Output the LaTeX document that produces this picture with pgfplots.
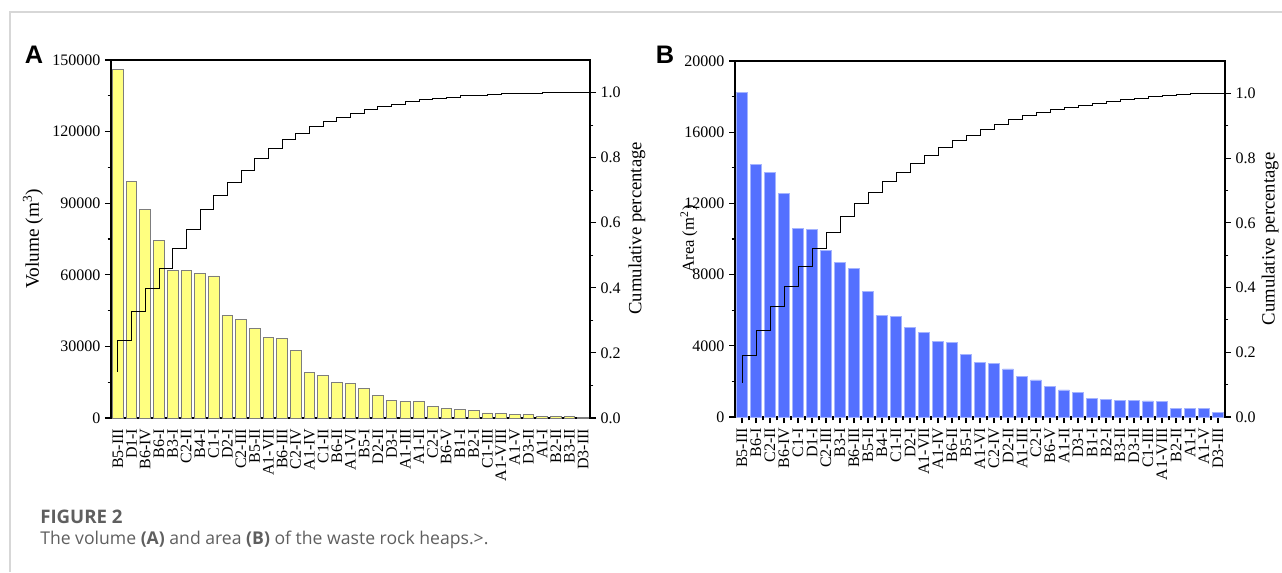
\documentclass[border=0pt]{standalone}
\usepackage{pgfplots}
\usepackage{pgfplotstable}
\pgfplotsset{compat=1.18}
\usepackage{fontspec}
\setmainfont{Liberation Serif}
\newfontfamily\capfont{Open Sans}
\newfontfamily\panelfont{Liberation Sans}

\definecolor{volfill}{RGB}{255,255,128}
\definecolor{voledge}{RGB}{125,125,125}
\definecolor{areafill}{RGB}{84,112,255}
\definecolor{areaedge}{RGB}{165,180,255}
\definecolor{framegray}{RGB}{215,215,215}
\definecolor{capgray}{RGB}{95,95,95}

% Volume (A): x, volume (m3), cumulative share
\pgfplotstableread{
x v c
1 146000 0.142
2 99200 0.238
3 87500 0.327
4 74500 0.399
5 62000 0.460
6 61700 0.522
7 60500 0.581
8 59500 0.641
9 42900 0.685
10 41300 0.725
11 37400 0.760
12 33800 0.797
13 33400 0.827
14 28200 0.857
15 19000 0.876
16 17800 0.895
17 15000 0.910
18 14300 0.923
19 12300 0.937
20 9400 0.948
21 7500 0.956
22 7100 0.964
23 6800 0.972
24 4800 0.978
25 3900 0.982
26 3600 0.986
27 3200 0.990
28 2100 0.992
29 1800 0.994
30 1500 0.996
31 1500 0.998
32 700 0.9986
33 700 0.9994
34 600 0.9998
35 300 1.000
}\tabA

% Area (B): x, area (m2), cumulative share
\pgfplotstableread{
x v c
1 18220 0.1062
2 14210 0.1890
3 13750 0.2691
4 12570 0.3424
5 10600 0.4042
6 10560 0.4657
7 9360 0.5203
8 8690 0.5709
9 8350 0.6196
10 7060 0.6607
11 5710 0.6940
12 5640 0.7269
13 5040 0.7562
14 4760 0.7840
15 4250 0.8087
16 4200 0.8332
17 3520 0.8537
18 3070 0.8716
19 3010 0.8892
20 2700 0.9049
21 2300 0.9183
22 2080 0.9304
23 1700 0.9403
24 1520 0.9492
25 1390 0.9573
26 1050 0.9634
27 990 0.9692
28 940 0.9746
29 940 0.9801
30 900 0.9854
31 860 0.9904
32 470 0.9931
33 470 0.9959
34 470 0.9986
35 240 1.0000
}\tabB

\pgfplotsset{
  panel/.style={
    scale only axis, anchor=south west,
    xmin=0.5, xmax=35.5,
    tick align=outside,
    axis line style={line width=0.9pt},
    tick style={black, line width=0.8pt},
    major tick length=4.5pt, minor tick length=2.5pt,
    tick label style={font=\fontsize{12}{12}\selectfont},
    label style={font=\fontsize{14}{16}\selectfont},
    /pgf/number format/assume math mode=true,
  },
  leftpanel/.style={
    ytick pos=left, xtick pos=bottom,
    scaled y ticks=false,
    yticklabel style={/pgf/number format/.cd, fixed, 1000 sep={}},
    xtick={1,...,35},
    xticklabel style={rotate=90, anchor=east},
    minor y tick num=1,
  },
  rightpanel/.style={
    axis x line=none, axis y line*=right,
    ymin=0, ymax=1.1,
    ytick={0,0.2,0.4,0.6,0.8,1.0},
    minor ytick={0.1,0.3,0.5,0.7,0.9},
    yticklabel style={/pgf/number format/.cd, fixed, fixed zerofill, precision=1},
    ylabel={Cumulative percentage},
  },
}

\begin{document}
\begin{tikzpicture}
% frame of the page
\draw[framegray, line width=0.8pt] (7.5pt,0pt) -- (7.5pt,420pt) -- (961.5pt,420pt);

% ---------- Panel A ----------
\begin{axis}[panel, leftpanel,
  at={(83.25pt,115.5pt)}, width=359.25pt, height=268.5pt,
  ymin=0, ymax=150000, ytick={0,30000,60000,90000,120000,150000},
  xticklabels={B5-III,D1-I,B6-IV,B6-I,B3-I,C2-II,B4-I,C1-I,D2-I,C2-III,B5-II,A1-VII,B6-III,C2-IV,A1-IV,C1-II,B6-II,A1-VI,B5-I,D2-II,D3-I,A1-III,A1-II,C2-I,B6-V,B1-I,B2-I,C1-III,A1-VIII,A1-V,D3-II,A1-I,B2-II,B3-II,D3-III},
  major x tick style={draw=none},
  ylabel={Volume (m\textsuperscript{3})},
  ylabel style={at={(axis description cs:-0.163,0.5)}, anchor=center, font=\fontsize{14.5}{16}\selectfont},
]
\addplot[ybar, bar width=0.78, fill=volfill, draw=voledge, line width=0.6pt] table[x=x,y=v]{\tabA};
\end{axis}
\begin{axis}[panel, rightpanel,
  at={(83.25pt,115.5pt)}, width=359.25pt, height=268.5pt,
  ylabel style={at={(axis description cs:1.098,0.53)}, anchor=center},
]
\addplot[const plot mark right, black, line width=0.6pt] table[x=x,y=c]{\tabA};
\addplot[black, line width=0.6pt] coordinates {(35,1.0) (35.5,1.0)};
\end{axis}

% ---------- Panel B ----------
\begin{axis}[panel, leftpanel,
  at={(551.25pt,116.25pt)}, width=367.5pt, height=267pt,
  ymin=0, ymax=20000, ytick={0,4000,8000,12000,16000,20000},
  xticklabels={B5-III,B6-I,C2-II,B6-IV,C1-I,D1-I,C2-III,B3-I,B6-III,B5-II,B4-I,C1-II,D2-I,A1-VII,A1-IV,B6-II,B5-I,A1-VI,C2-IV,D2-II,A1-III,C2-I,B6-V,A1-II,D3-I,B1-I,B2-I,B3-II,D3-II,C1-III,A1-VIII,B2-II,A1-I,A1-V,D3-III},
  minor x tick num=1,
  ylabel={Area (m\textsuperscript{2})},
  ylabel style={at={(axis description cs:-0.094,0.5)}, anchor=center, font=\fontsize{12.5}{14}\selectfont},
]
\addplot[ybar, bar width=0.78, fill=areafill, draw=areaedge, line width=0.6pt] table[x=x,y=v]{\tabB};
\end{axis}
\begin{axis}[panel, rightpanel,
  at={(551.25pt,116.25pt)}, width=367.5pt, height=267pt,
  ylabel style={at={(axis description cs:1.092,0.5)}, anchor=center},
]
\addplot[const plot mark right, black, line width=0.6pt] table[x=x,y=c]{\tabB};
\addplot[black, line width=0.6pt] coordinates {(35,1.0) (35.5,1.0)};
\end{axis}

% panel letters
\node[font=\panelfont\bfseries\fontsize{19}{19}\selectfont] at (25.5pt,387.75pt) {A};
\node[font=\panelfont\bfseries\fontsize{19}{19}\selectfont] at (498.75pt,387.75pt) {B};

% caption
\node[anchor=base west, inner sep=0pt, text=capgray, font=\capfont\bfseries\fontsize{14}{14}\selectfont] at (30pt,36.75pt) {FIGURE 2};
\node[anchor=base west, inner sep=0pt, text=capgray, font=\capfont\fontsize{13.2}{13.2}\selectfont] at (30pt,20.6pt) {The volume \textbf{(A)} and area \textbf{(B)} of the waste rock heaps.>.};

\pgfresetboundingbox
\useasboundingbox (0pt,0pt) rectangle (961.5pt,429pt);
\end{tikzpicture}
\end{document}
